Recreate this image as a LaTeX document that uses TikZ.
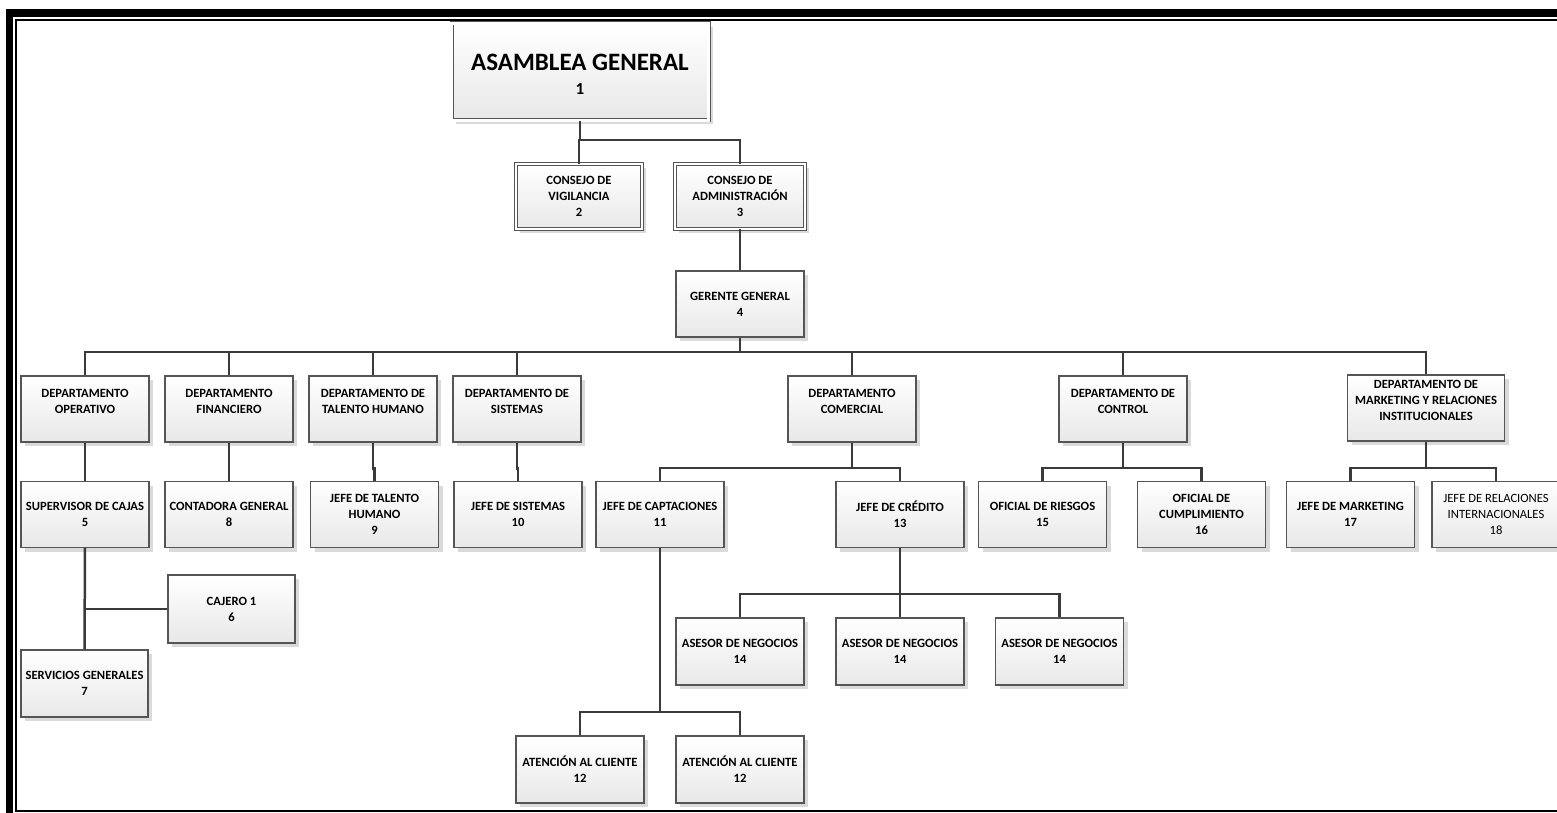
\documentclass[tikz,border=0pt]{standalone}
\usepackage{fontspec}
\setmainfont{Carlito}
\usetikzlibrary{shadows}
\definecolor{linec}{HTML}{3A3A3A}
\definecolor{boxc}{HTML}{555555}
\definecolor{shadc}{HTML}{DADADA}
\tikzset{
  box/.style={rectangle, draw=boxc, line width=1.1pt, top color=white, bottom color=black!9,
    minimum width=128pt, minimum height=66pt, inner sep=2pt, align=center,
    font=\fontsize{12.6}{16}\selectfont\bfseries,
    drop shadow={shadow xshift=4pt, shadow yshift=-4pt, fill=shadc, opacity=1}},
  plainbox/.style={box, font=\fontsize{12.6}{16}\selectfont},
  dbox/.style={box, double=white, double distance=2.2pt, line width=0.9pt},
  conn/.style={draw=linec, line width=2.5pt},
  framebar/.style={fill=black}
}
\begin{document}
\begin{tikzpicture}[x=1pt,y=-1pt]
\useasboundingbox (0,0) rectangle (1557,813);
% frame
\fill[framebar] (6,9) rectangle (1557,17);
\fill[framebar] (6,9) rectangle (13,813);
\fill[framebar] (15,19.5) rectangle (1557,21.5);
\fill[framebar] (15,19.5) rectangle (16.8,811.5);
\fill[framebar] (15,809.5) rectangle (1557,811.5);

% top levels
\node[dbox, minimum width=257pt, minimum height=97pt] (ag) at (580,72)
  {\fontsize{25}{30}\selectfont\rule{0pt}{21pt}ASAMBLEA GENERAL\\[8pt]\fontsize{17}{20}\selectfont 1};
\node[dbox, minimum width=126pt, minimum height=65pt] (cv) at (579,196.5) {CONSEJO DE\\VIGILANCIA\\2};
\node[dbox, minimum width=130pt, minimum height=65pt] (ca) at (740,196.5) {CONSEJO DE\\ADMINISTRACIÓN\\3};
\node[box] (gg) at (740,304) {GERENTE GENERAL\\4};

% departments
\node[box] (do) at (85,409) {DEPARTAMENTO\\OPERATIVO\\\mbox{}};
\node[box] (df) at (229,409) {DEPARTAMENTO\\FINANCIERO\\\mbox{}};
\node[box] (dth) at (373,409) {DEPARTAMENTO DE\\TALENTO HUMANO\\\mbox{}};
\node[box] (ds) at (517,409) {DEPARTAMENTO DE\\SISTEMAS\\\mbox{}};
\node[box] (dcom) at (852,409) {DEPARTAMENTO\\COMERCIAL\\\mbox{}};
\node[box] (dctl) at (1123,409) {DEPARTAMENTO DE\\CONTROL\\\mbox{}};
\node[box, minimum width=157pt] (dmri) at (1426,408)
  {DEPARTAMENTO DE\\MARKETING Y RELACIONES\\INSTITUCIONALES\\\mbox{}};

% second row
\node[box] (sc) at (85,514.5) {SUPERVISOR DE CAJAS\\5};
\node[box] (cg) at (229,514.5) {CONTADORA GENERAL\\8};
\node[box] (jth) at (374.5,514.5) {JEFE DE TALENTO\\HUMANO\\9};
\node[box] (js) at (518,514.5) {JEFE DE SISTEMAS\\10};
\node[box] (jc) at (660,514.5) {JEFE DE CAPTACIONES\\11};
\node[box] (jcr) at (900,514.5) {JEFE DE CRÉDITO\\13};
\node[box] (or) at (1042.5,514.5) {OFICIAL DE RIESGOS\\15};
\node[box] (oc) at (1201.5,514.5) {OFICIAL DE\\CUMPLIMIENTO\\16};
\node[box] (jm) at (1350.5,514.5) {JEFE DE MARKETING\\17};
\node[plainbox] (jri) at (1496,514.5) {JEFE DE RELACIONES\\INTERNACIONALES\\18};

% lower levels
\node[box, minimum width=127pt, minimum height=68pt] (caj) at (231.5,609) {CAJERO 1\\6};
\node[box, minimum width=127pt, minimum height=67pt] (sg) at (84.5,683.5) {SERVICIOS GENERALES\\7};
\node[box, minimum height=67pt] (as1) at (740,651.5) {ASESOR DE NEGOCIOS\\14};
\node[box, minimum height=67pt] (as2) at (900,651.5) {ASESOR DE NEGOCIOS\\14};
\node[box, minimum height=67pt] (as3) at (1059.5,651.5) {ASESOR DE NEGOCIOS\\14};
\node[box, minimum height=67pt] (ac1) at (580,769.5) {ATENCIÓN AL CLIENTE\\12};
\node[box, minimum height=67pt] (ac2) at (740,769.5) {ATENCIÓN AL CLIENTE\\12};

% junction points
\coordinate (j1) at (580,140);
\coordinate (bus) at (740,352);
\coordinate (jcom) at (852,468);
\coordinate (jctl) at (1123,468);
\coordinate (jmri) at (1426,468);
\coordinate (jcre) at (900,594);
\coordinate (jcap) at (660,712);

% connectors
\draw[conn] (ag.south) -- (ag.south |- j1);
\draw[conn] (cv.north) |- (ca.north |- j1) -- (ca.north);
\draw[conn] (ca.south) -- (gg.north);
\draw[conn] (gg.south) -- (gg.south |- bus);
\draw[conn] (do.north) -- (do.north |- bus) -- (dmri.north |- bus) -- (dmri.north);
\foreach \n in {df,dth,ds,dcom,dctl} \draw[conn] (\n.north) -- (\n.north |- bus);

\draw[conn] (do.south) -- (sc.north);
\draw[conn] (df.south) -- (cg.north);
\draw[conn] (dth.south) -- ++(0,26) -| (jth.north);
\draw[conn] (ds.south) -- ++(0,26) -| (js.north);

\draw[conn] (dcom.south) -- (jcom);
\draw[conn] (jc.north) |- (jcom) -| (jcr.north);
\draw[conn] (dctl.south) -- (jctl);
\draw[conn] (or.north) |- (jctl) -| (oc.north);
\draw[conn] (dmri.south) -- (jmri);
\draw[conn] (jm.north) |- (jmri) -| (jri.north);

\draw[conn] (sc.south) -- (sg.north);
\draw[conn] (sc.south |- caj.west) -- (caj.west);

\draw[conn] (jcr.south) -- (as2.north);
\draw[conn] (as1.north) |- (jcre) -| (as3.north);

\draw[conn] (jc.south) -- (jcap);
\draw[conn] (ac1.north) |- (jcap) -| (ac2.north);
\end{tikzpicture}
\end{document}
